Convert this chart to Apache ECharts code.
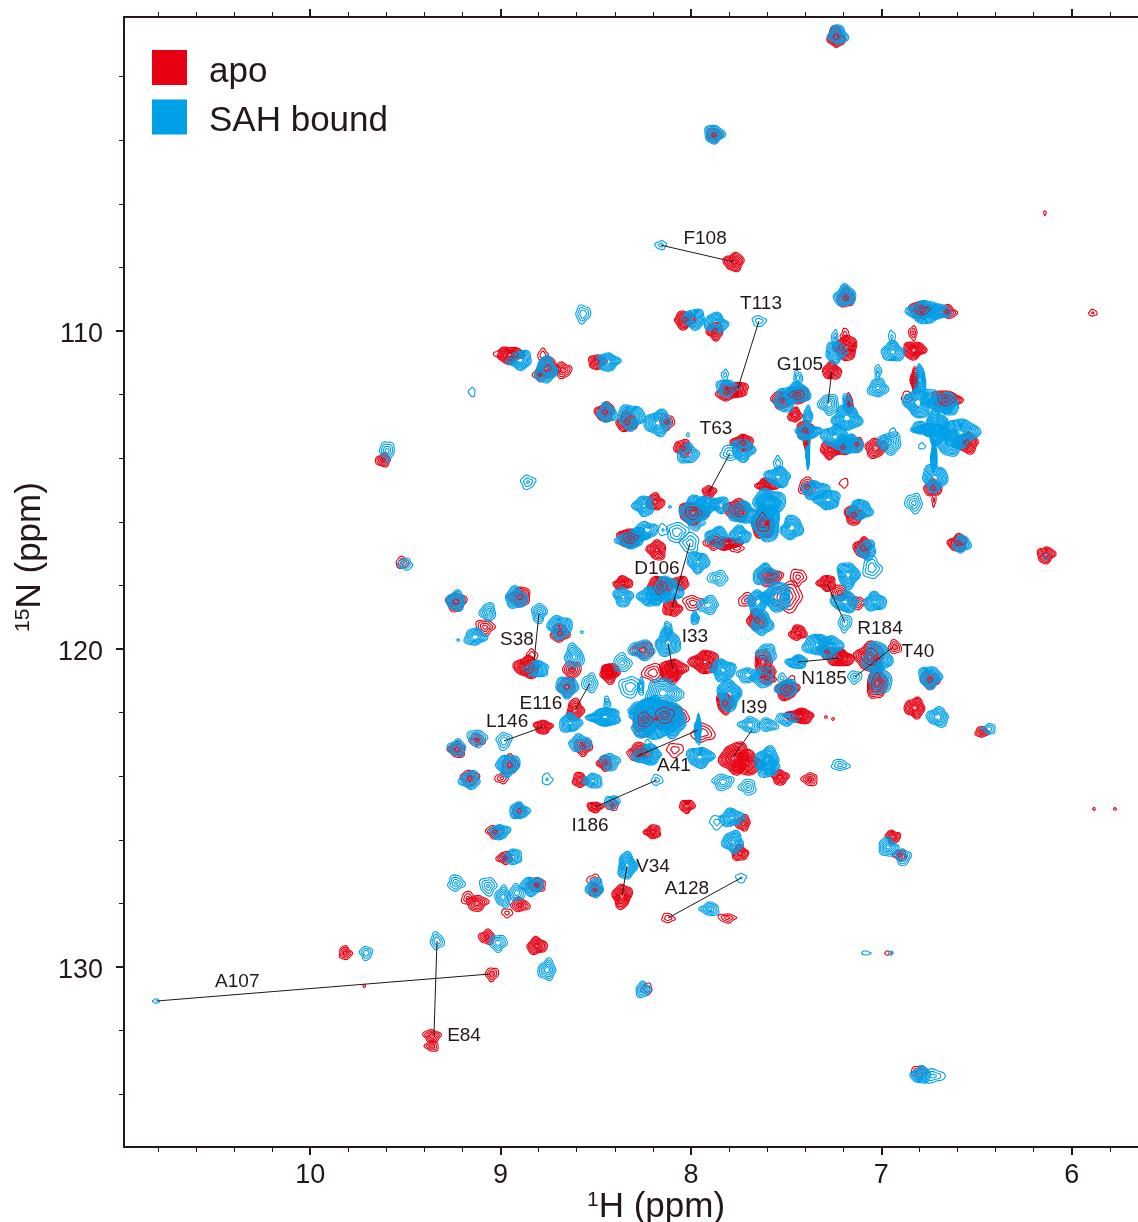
<!DOCTYPE html>
<html><head><meta charset="utf-8">
<style>html,body{margin:0;padding:0;background:#fff;overflow:hidden}#c{width:1138px;height:1222px}</style>
<script src="https://cdn.jsdelivr.net/npm/echarts@6/dist/echarts.min.js"></script>
</head><body><div id="c"></div>
<script>
// [1H ppm, 15N ppm, half-width 1H (ppm), half-width 15N (ppm), contour levels]
const sahPeaks = [
[7.228,100.69,.047,.28,7],[7.879,103.81,.047,.28,7],[8.158,107.30,.026,.13,3],[7.191,108.90,.053,.31,7],[8.567,109.46,.037,.25,4],
[7.984,109.62,.058,.28,7],[7.869,109.75,.058,.28,7],[7.643,109.69,.032,.16,3],[6.777,109.40,.074,.35,7],[6.703,109.40,.063,.22,6],
[7.239,110.66,.053,.31,7],[7.244,110.22,.016,.22,3],[6.939,110.66,.058,.28,6],[6.945,110.19,.016,.19,2],[7.275,112.30,.047,.31,5],
[7.018,111.79,.047,.28,6],[7.018,111.29,.016,.22,3],[7.506,112.26,.053,.25,6],[7.438,111.95,.063,.28,7],[7.438,111.48,.021,.22,4],
[7.491,112.01,.053,.25,6],[7.386,112.67,.021,.28,5],[7.386,113.18,.063,.22,7],[7.386,113.84,.010,.44,5],[7.181,112.74,.074,.35,7],
[7.181,112.26,.021,.28,5],[7.244,113.33,.063,.35,7],[7.154,113.58,.053,.28,7],[7.191,113.52,.042,.25,7],[6.955,113.52,.058,.31,5],
[6.939,113.21,.021,.13,2],[6.986,113.49,.032,.19,4],[6.808,112.26,.063,.44,7],[6.797,111.54,.026,.44,6],[6.745,112.08,.042,.25,6],
[6.676,112.26,.074,.28,7],[6.640,112.39,.042,.25,7],[6.708,113.02,.053,.50,7],[6.745,113.11,.074,.19,7],[6.797,113.05,.042,.19,6],
[6.587,113.21,.084,.44,7],[6.640,113.52,.063,.38,7],[6.724,113.96,.016,.44,6],[6.719,114.62,.063,.38,7],[6.829,115.41,.042,.28,4],
[6.787,113.62,.016,.09,2],[7.349,115.00,.063,.28,7],[7.281,115.31,.063,.28,7],[7.112,115.63,.063,.28,7],[7.727,113.74,.058,.31,7],
[7.543,114.59,.063,.28,7],[7.543,114.15,.021,.19,3],[7.590,115.41,.074,.44,7],[8.898,110.91,.058,.28,7],[8.762,111.23,.053,.38,7],
[8.436,110.97,.058,.25,7],[9.150,111.92,.016,.13,2],[8.441,112.58,.047,.28,7],[8.315,112.70,.063,.38,7],[8.173,112.89,.063,.38,7],
[8.016,113.87,.053,.28,6],[8.856,114.75,.037,.19,3],[8.247,115.50,.053,.28,7],[7.795,113.84,.047,.22,3],[7.811,111.79,.053,.25,6],
[7.821,111.38,.016,.16,3],[7.979,115.63,.074,.38,7],[7.916,115.47,.063,.25,6],[7.848,115.47,.053,.22,6],[7.727,115.72,.074,.31,7],
[7.596,115.47,.053,.38,7],[7.601,116.04,.063,.57,7],[7.470,116.19,.053,.35,7],[7.974,116.04,.042,.19,5],[7.863,116.48,.058,.28,7],
[7.743,116.42,.053,.25,7],[8.231,116.26,.053,.25,6],[8.320,116.57,.063,.25,7],[8.278,116.42,.053,.22,6],[8.074,116.32,.053,.28,3],
[8.005,116.67,.047,.28,3],[8.147,116.26,.026,.16,2],[7.963,117.26,.053,.31,7],[7.858,117.77,.047,.22,4],[7.611,117.67,.058,.31,7],
[7.648,118.52,.053,.35,7],[7.548,118.36,.074,.41,7],[7.627,119.18,.053,.35,7],[7.175,117.67,.053,.38,7],[7.191,118.52,.063,.31,7],
[7.034,118.52,.053,.28,7],[7.191,119.18,.032,.25,4],[7.076,116.89,.047,.28,7],[7.050,117.45,.047,.31,3],[8.357,118.36,.047,.28,7],
[8.226,118.36,.047,.28,7],[8.126,118.14,.074,.38,7],[8.179,118.30,.053,.28,7],[7.911,118.62,.053,.25,5],[7.979,119.03,.021,.19,7],
[7.832,120.66,.063,.31,7],[7.601,120.13,.047,.28,6],[7.333,119.87,.074,.31,6],[7.270,119.94,.058,.35,7],[7.443,120.41,.053,.19,7],
[8.121,119.81,.063,.38,7],[8.121,119.40,.021,.25,5],[8.257,120.03,.063,.28,5],[8.362,120.44,.042,.28,4],[7.701,120.82,.053,.22,5],
[7.622,120.88,.053,.31,6],[7.023,120.28,.074,.44,7],[6.745,120.88,.058,.31,7],[6.703,122.14,.053,.28,6],[7.007,120.97,.053,.44,5],
[7.139,120.88,.032,.19,4],[7.496,121.23,.053,.25,7],[7.522,120.91,.021,.13,4],[7.800,121.45,.058,.44,7],[7.690,122.39,.053,.22,5],
[7.596,122.39,.047,.19,5],[7.496,122.20,.053,.19,5],[7.601,123.49,.058,.38,7],[7.596,123.71,.053,.31,7],[7.832,124.18,.053,.22,4],
[7.701,124.34,.042,.22,4],[7.217,123.65,.042,.16,3],[7.953,123.40,.063,.31,7],[7.963,122.55,.016,.44,5],[7.785,125.31,.063,.25,6],
[7.863,125.44,.037,.19,2],[7.779,126.07,.053,.31,7],[6.965,126.23,.047,.28,6],[6.887,126.54,.037,.25,5],[6.435,122.52,.032,.16,5],
[6.577,116.70,.042,.25,7],[6.136,117.07,.016,.09,2],[9.234,118.49,.047,.28,7],[8.919,118.40,.053,.31,7],[8.688,119.31,.058,.35,7],
[9.066,118.84,.037,.28,5],[9.134,119.62,.053,.25,6],[8.798,118.87,.037,.28,5],[8.809,120.63,.063,.22,6],[8.614,120.25,.047,.35,5],
[8.651,121.19,.053,.31,7],[8.530,121.07,.037,.28,4],[8.635,122.33,.053,.28,7],[8.982,122.89,.037,.25,4],[8.452,122.14,.084,.25,7],
[8.441,121.70,.016,.19,4],[9.124,122.80,.047,.25,5],[9.229,123.11,.042,.25,6],[8.583,122.96,.053,.25,6],[8.961,123.65,.058,.31,7],
[9.161,124.12,.053,.25,6],[8.756,124.10,.026,.16,2],[8.425,123.55,.047,.25,6],[8.515,124.15,.047,.22,6],[8.179,124.12,.026,.16,3],
[8.415,124.81,.037,.19,6],[8.231,123.33,.074,.28,7],[8.226,122.96,.016,.09,3],[8.179,122.14,.126,.57,7],[8.278,121.92,.042,.25,6],
[8.147,121.38,.084,.44,5],[8.320,121.19,.053,.31,3],[8.263,121.19,.016,.25,4],[8.25,122.45,.06,.30,7],[8.10,122.30,.07,.40,7],[8.20,121.80,.06,.30,6],
[8.903,125.09,.047,.25,7],[9.003,125.75,.047,.22,7],
[8.935,126.54,.047,.22,6],[9.234,127.36,.042,.22,4],[9.066,127.45,.042,.25,4],[8.987,127.80,.037,.31,5],[8.914,127.67,.037,.25,5],
[8.835,127.45,.053,.28,7],[8.504,127.51,.042,.28,7],[8.336,126.82,.047,.38,7],[7.737,127.20,.026,.13,2],[7.900,128.18,.047,.19,5],
[9.334,129.18,.032,.25,4],[9.014,129.24,.042,.25,5],[8.756,130.09,.042,.31,5],[8.252,130.72,.037,.22,6],[9.706,129.56,.032,.19,5],
[10.809,131.07,.016,.06,1],[7.081,129.56,.021,.06,1],[6.950,129.56,.010,.06,1],[6.792,133.40,.047,.25,7],[6.729,133.43,.058,.19,2],
[9.596,113.77,.037,.28,4],[9.501,117.33,.037,.16,4],[9.223,119.72,.005,.03,1],[8.573,119.47,.005,.03,1],[8.016,113.27,.005,.06,1],[8.110,115.53,.005,.03,1]
];
const apoPeaks = [
[7.238,100.75,.042,.31,7],[7.879,103.84,.037,.22,6],[7.774,107.83,.047,.28,7],[7.186,108.96,.042,.28,6],[8.032,109.65,.053,.25,7],
[7.874,110.00,.042,.25,7],[6.655,109.40,.047,.19,5],[6.787,109.34,.063,.25,6],[7.186,110.53,.053,.38,7],[7.191,110.13,.021,.19,3],
[6.829,110.60,.058,.25,7],[6.834,110.06,.021,.19,4],[7.260,111.26,.047,.25,7],[7.522,112.17,.053,.25,6],[7.443,112.01,.063,.25,6],
[7.454,112.64,.032,.22,7],[7.401,113.11,.042,.28,7],[7.391,113.52,.016,.25,5],[7.170,112.30,.021,.28,5],[7.270,113.74,.047,.25,7],
[7.128,113.55,.032,.19,6],[7.202,113.65,.042,.25,7],[7.029,113.68,.053,.28,6],[6.824,111.54,.021,.38,5],[6.866,112.08,.026,.16,3],
[6.661,112.17,.074,.28,6],[6.550,113.52,.053,.31,7],[6.729,114.94,.042,.25,7],[6.724,115.31,.010,.19,2],[7.196,114.78,.021,.13,2],
[7.391,114.90,.042,.25,5],[7.144,115.79,.047,.28,7],[7.727,113.52,.053,.25,7],[7.601,114.84,.053,.19,7],[8.951,110.75,.063,.25,7],
[9.014,110.72,.021,.09,2],[8.778,110.75,.026,.16,4],[8.672,111.23,.042,.22,5],[8.793,111.38,.032,.19,5],[8.751,111.16,.053,.31,6],
[8.494,110.97,.042,.22,7],[8.452,112.55,.047,.28,7],[8.336,112.86,.053,.28,7],[8.126,112.86,.037,.22,5],[8.042,113.68,.042,.25,7],
[8.189,115.38,.042,.25,7],[7.905,115.06,.032,.19,7],[7.758,111.85,.058,.22,6],[7.811,111.92,.053,.25,6],[7.989,115.72,.074,.31,7],
[7.758,115.63,.063,.31,6],[7.622,116.04,.053,.50,7],[7.811,116.67,.074,.19,6],[7.884,116.64,.042,.22,5],[7.758,116.82,.032,.13,3],
[8.320,116.51,.068,.25,7],[8.179,116.89,.047,.28,7],[7.653,119.09,.047,.31,7],[7.438,117.74,.037,.25,3],[7.496,118.36,.074,.44,3],
[7.706,118.46,.042,.19,3],[7.585,117.74,.063,.25,5],[7.286,117.93,.047,.22,7],[7.217,118.24,.042,.22,5],[7.128,118.55,.042,.19,4],
[7.097,116.82,.042,.31,7],[8.357,117.93,.047,.19,7],[8.163,118.05,.063,.31,7],[8.058,117.93,.047,.19,6],[8.100,118.71,.047,.25,7],
[7.989,118.55,.047,.22,3],[7.926,120.41,.068,.35,7],[7.438,119.49,.042,.22,7],[7.622,120.41,.042,.38,5],[7.585,120.72,.032,.16,6],
[7.217,120.28,.068,.25,7],[7.286,120.09,.042,.19,5],[8.252,120.03,.053,.25,5],[8.436,120.72,.037,.22,7],[8.095,120.66,.068,.31,6],
[7.060,120.25,.074,.41,6],[6.929,119.94,.032,.19,5],[6.745,120.97,.047,.25,6],[6.824,121.85,.047,.31,7],[7.023,121.07,.047,.50,5],
[7.496,121.29,.058,.28,7],[7.470,120.94,.016,.09,3],[7.601,120.91,.042,.19,6],[7.821,121.70,.042,.31,7],[7.428,122.11,.068,.22,7],
[7.291,122.14,.005,.03,1],[7.254,122.20,.005,.03,1],[7.769,123.43,.074,.44,7],[7.706,123.59,.074,.35,6],[7.533,124.03,.042,.22,7],
[7.375,124.10,.037,.19,5],[7.937,122.64,.053,.28,3],[8.021,124.94,.037,.19,7],[7.727,125.47,.037,.22,7],[7.743,126.42,.042,.22,7],
[6.939,125.91,.037,.19,7],[6.902,126.48,.032,.16,5],[6.472,122.61,.032,.16,6],[6.136,117.04,.042,.25,7],[6.598,116.67,.047,.25,7],
[5.889,109.43,.021,.09,3],[6.141,106.29,.005,.06,1],[5.883,125.03,.005,.02,1],[5.773,125.03,.005,.02,1],[9.234,118.52,.047,.28,6],
[8.898,118.36,.053,.28,6],[8.688,119.50,.047,.25,6],[9.082,119.31,.047,.22,4],[8.861,120.57,.063,.31,7],[8.835,120.19,.026,.16,4],
[8.625,120.66,.042,.28,5],[8.651,121.19,.042,.28,5],[8.609,121.92,.042,.31,6],[8.777,122.45,.047,.19,7],[9.229,123.17,.042,.22,6],
[9.124,122.86,.037,.19,5],[8.567,123.08,.042,.25,6],[8.993,124.06,.032,.16,4],[8.951,123.65,.042,.28,5],[9.161,124.06,.047,.22,5],
[8.452,123.59,.037,.22,7],[8.583,124.12,.037,.22,7],[8.504,124.97,.037,.16,7],[8.415,124.91,.032,.16,5],[8.268,123.24,.063,.25,5],
[8.084,123.17,.042,.19,2],[8.200,120.75,.053,.25,3],[8.242,122.23,.063,.38,6],[8.137,122.08,.074,.44,6],[8.252,122.64,.032,.13,3],
[8.058,122.14,.042,.25,4],[8.425,120.75,.047,.28,7],[8.110,120.75,.047,.31,5],[8.903,125.09,.032,.19,5],[9.029,125.75,.042,.19,5],
[8.977,126.57,.037,.19,6],[9.171,127.83,.032,.19,4],[9.124,127.99,.053,.22,5],[8.809,127.42,.047,.19,5],[8.898,128.05,.047,.19,5],
[8.966,128.30,.026,.13,3],[8.509,127.26,.032,.16,3],[8.504,127.58,.032,.19,6],[8.362,127.77,.047,.35,7],[8.200,125.75,.042,.19,7],
[8.121,128.46,.032,.13,3],[7.811,128.46,.042,.13,3],[9.071,129.06,.037,.22,6],[8.809,129.34,.047,.25,7],[9.045,130.22,.032,.19,5],
[8.231,130.69,.026,.16,4],[9.816,129.56,.032,.19,6],[9.360,132.17,.042,.19,5],[9.360,132.49,.032,.16,5],[6.965,129.56,.016,.06,1],
[6.803,133.30,.037,.19,4],[9.617,114.06,.037,.19,6],[9.517,117.29,.032,.16,4],[9.716,130.60,.005,.03,1]
];
// residue, [1H,15N] of SAH-bound end, [1H,15N] of apo end, [1H,15N] of its label
const residues = ['F108','T113','G105','T63','D106','R184','I33','T40','N185','S38','E116','L146','I39','A41','I186','V34','A128','A107','E84'];
const shiftStart = [[8.158,107.30],[7.643,109.69],[7.260,111.26],[7.795,113.84],[8.005,116.67],[7.286,117.93],[8.121,119.81],[6.939,119.94],[7.443,120.41],[8.798,118.87],[8.530,121.07],[8.982,122.89],[7.680,122.55],[7.963,122.55],[8.179,124.12],[8.336,126.82],[7.737,127.20],[10.809,131.07],[9.334,129.18]];
const shiftEnd = [[7.774,107.83],[7.753,111.79],[7.281,112.30],[7.905,115.06],[8.100,118.71],[7.191,119.18],[8.095,120.66],[7.139,120.88],[7.207,120.28],[8.824,120.35],[8.609,121.92],[8.777,122.45],[7.779,123.40],[8.283,123.37],[8.504,124.97],[8.362,127.77],[8.121,128.46],[9.055,130.22],[9.350,132.17]];
const labelAt = [[7.926,107.07],[7.632,109.12],[7.428,111.04],[7.869,113.05],[8.179,117.45],[7.007,119.34],[7.979,119.59],[6.808,120.06],[7.301,120.91],[8.914,119.69],[8.788,121.70],[8.966,122.26],[7.669,121.82],[8.089,123.65],[8.530,125.53],[8.200,126.82],[8.021,127.52],[10.383,130.44],[9.192,132.14]];
const hMajor = [6,7,8,9,10];
const hMinor = [5.8,6.2,6.4,6.6,6.8,7.2,7.4,7.6,7.8,8.2,8.4,8.6,8.8,9.2,9.4,9.6,9.8,10.2,10.4,10.6,10.8];
const nMajor = [110,120,130];
const nMinor = [102,104,106,108,112,114,116,118,122,124,126,128,132,134];

const INK = '#231815', RED = '#e60012', BLUE = '#00a0e9';
const hRange = {min:5.652, max:10.978}, nRange = {min:100.126, max:135.66};
const font = '"Liberation Sans", Arial, sans-serif';
const ringStep = {1:99, 2:4.5, 3:3.2, 4:2.5, 5:2, 6:1.6, 7:1.35};

function blob(cx, cy, rx, ry, scale, seed) {
  const pts = [], N = 26;
  for (let i = 0; i < N; i++) {
    const t = i / N * Math.PI * 2, c = Math.cos(t), s = Math.sin(t);
    const p = 1.6, d = Math.pow(Math.pow(Math.abs(c), p) + Math.pow(Math.abs(s), p), -1 / p);
    const w = 1 + 0.1 * Math.sin(3 * t + seed * 2.1) + 0.07 * Math.sin(5 * t + seed * 1.3) + 0.05 * Math.sin(2 * t + seed);
    pts.push([cx + rx * scale * d * c * w, cy + ry * scale * d * s * w]);
  }
  return pts;
}
function contours(color, lw) {
  return function (params, api) {
    const c = api.coord([api.value(0), api.value(1)]);
    const sz = api.size([api.value(2), api.value(3)]);
    const n = api.value(4), kids = [];
    const rx = Math.max(sz[0], 1.2) * 1.12, ry = Math.max(sz[1], 1.2) * 1.12;
    const step = ringStep[n] / Math.max(rx, ry);
    for (let sc = 1; sc > 0.16; sc -= step) {
      kids.push({type:'polygon', shape:{points: blob(c[0], c[1], rx, ry, sc, params.dataIndex)},
        style:{fill:'none', stroke:color, lineWidth:lw}, silent:true});
    }
    return {type:'group', children:kids};
  };
}
function cores(color) {
  return function (params, api) {
    const c = api.coord([api.value(0), api.value(1)]);
    const sz = api.size([api.value(2), api.value(3)]);
    if (api.value(4) < 5) return {type:'group', children:[]};
    const rings = Math.max(sz[0], sz[1]) > 11 ? [0.62, 0.34, 0.16] : [0.34, 0.16];
    const kids = rings.map(sc => ({type:'polygon', shape:{points: blob(c[0], c[1], sz[0], sz[1], sc, params.dataIndex)},
      style:{fill:'none', stroke:color, lineWidth:.9}, silent:true}));
    return {type:'group', children:kids};
  };
}
const dims = ['H','N','wH','wN','levels'];
const xBase = {type:'value', ...hRange, inverse:true, splitLine:{show:false}, axisLine:{show:true, onZero:false, lineStyle:{color:INK,width:2}}};
const yBase = {type:'value', ...nRange, inverse:true, splitLine:{show:false}, axisLine:{show:true, onZero:false, lineStyle:{color:INK,width:2}}};
const tick = (vals, len, w) => ({show:true, inside:false, length:len, customValues:vals, lineStyle:{color:INK, width:w}});
const supStyle = {sup:{fontFamily:font, fontSize:21, color:INK, verticalAlign:'top', lineHeight:30, padding:[0,0,14,0]}};

const option = {
  animation:false, backgroundColor:'#fff',
  grid:{left:124, top:17, width:1014, height:1130, containLabel:false, outerBoundsMode:'none'},
  legend:{left:152, top:50, padding:0, orient:'vertical', itemWidth:35, itemHeight:35, itemGap:10, icon:'rect',
    data:['apo','SAH bound'], selectedMode:false, formatter:n=>'{t|'+n+'}',
    textStyle:{fontFamily:font, fontSize:35, color:INK,
      rich:{t:{fontFamily:font, fontSize:35, color:INK, padding:[9,0,0,17]}}}},
  xAxis:[
    {...xBase, position:'bottom', axisTick:tick(hMajor,8,2),
     axisLabel:{show:true, customValues:hMajor, fontFamily:font, fontSize:27, color:INK, margin:15, formatter:v=>String(v)},
     name:'{sup|1}H (ppm)', nameLocation:'middle', nameGap:43, nameMoveOverlap:false,
     nameTextStyle:{fontFamily:font, fontSize:35, color:INK, padding:[0,0,0,50], rich:supStyle}},
    {...xBase, position:'bottom', axisTick:tick(hMinor,5,1), axisLabel:{show:false}},
    {...xBase, position:'top', axisTick:tick(hMajor,8,2), axisLabel:{show:false}},
    {...xBase, position:'top', axisTick:tick(hMinor,5,1), axisLabel:{show:false}}
  ],
  yAxis:[
    {...yBase, position:'left', axisTick:tick(nMajor,8,2),
     axisLabel:{show:true, customValues:nMajor, fontFamily:font, fontSize:27, color:INK, margin:21, formatter:v=>'{t|'+v+'}',
       rich:{t:{fontFamily:font, fontSize:27, color:INK, padding:[7,0,0,0]}}},
     name:'{sup|15}N (ppm)', nameLocation:'middle', nameRotate:90, nameGap:76, nameMoveOverlap:false,
     nameTextStyle:{fontFamily:font, fontSize:35, color:INK, padding:[0,0,0,50], rich:supStyle}},
    {...yBase, position:'left', axisTick:tick(nMinor,5,1), axisLabel:{show:false}}
  ],
  series:[
    {name:'apo', type:'custom', z:2, dimensions:dims, data:apoPeaks, encode:{x:0,y:1}, renderItem:contours(RED,1.1), itemStyle:{color:RED}, clip:true, silent:true},
    {name:'SAH bound', type:'custom', z:3, dimensions:dims, data:sahPeaks, encode:{x:0,y:1}, renderItem:contours(BLUE,1.1), itemStyle:{color:BLUE}, clip:true, silent:true},
    {name:'apo core', type:'custom', z:4, dimensions:dims, data:apoPeaks, encode:{x:0,y:1}, renderItem:cores(RED), itemStyle:{color:RED}, clip:true, silent:true},
    {name:'shifts', type:'custom', z:5, silent:true, clip:false,
     data:residues.map((r,i)=>[shiftStart[i][0],shiftStart[i][1],shiftEnd[i][0],shiftEnd[i][1]]), encode:{x:[0,2],y:[1,3]},
     renderItem:(p,api)=>{const a=api.coord([api.value(0),api.value(1)]),b=api.coord([api.value(2),api.value(3)]);
       return {type:'line',shape:{x1:a[0],y1:a[1],x2:b[0],y2:b[1]},style:{stroke:INK,lineWidth:1}};}},
    {name:'labels', type:'custom', z:6, silent:true, clip:false,
     data:residues.map((r,i)=>[labelAt[i][0],labelAt[i][1],r]), encode:{x:0,y:1},
     renderItem:(p,api)=>{const c=api.coord([api.value(0),api.value(1)]);
       return {type:'text',style:{x:c[0],y:c[1]+1,text:residues[p.dataIndex],fill:INK,font:'19px '+font,textAlign:'center',textVerticalAlign:'middle'}};}}
  ]
};
echarts.init(document.getElementById('c'),null,{renderer:'canvas'}).setOption(option);
</script></body></html>
